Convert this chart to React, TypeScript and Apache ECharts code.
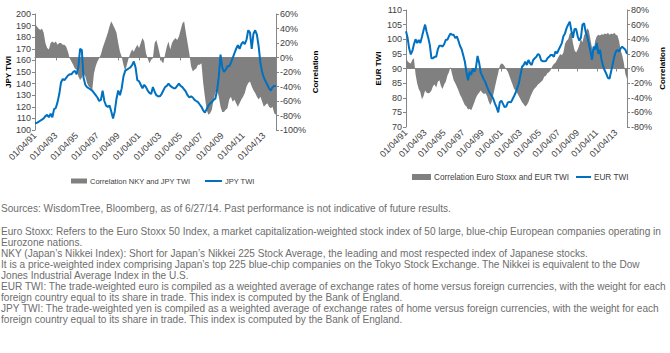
import React, { useEffect, useRef } from 'react';
import * as echarts from 'echarts';

const tickLabels = ['01/04/91', '01/04/93', '01/04/95', '01/04/97', '01/04/99', '01/04/01', '01/04/03', '01/04/05', '01/04/07', '01/04/09', '01/04/11', '01/04/13'];
const yearsPerPoint = 1 / 6; // bimonthly samples starting 01/04/91

const jpyTwi = [
  106, 106, 107, 108, 109, 110, 112, 113, 111, 114, 111, 118, 119, 124, 131, 141, 144, 143, 145, 147,
  148, 148, 150, 151, 148, 154, 170, 169, 145, 139, 137, 136, 135, 134, 132, 130, 128, 125, 126, 134,
  125, 121, 120, 121, 116, 110, 116, 127, 134, 130, 136, 146, 151, 152, 153, 154, 156, 159, 154, 143,
  142, 139, 136, 139, 137, 134, 132, 131, 137, 133, 130, 129, 129, 131, 134, 137, 138, 140, 138, 137,
  136, 136, 138, 140, 138, 137, 135, 133, 130, 128, 129, 128, 126, 125, 124, 122, 120, 117, 115, 118,
  121, 123, 124, 126, 127, 134, 146, 165, 154, 150, 152, 155, 155, 158, 162, 166, 170, 173, 170, 174,
  176, 174, 178, 186, 184, 170, 183, 186, 182, 172, 158, 150, 145, 142, 139, 136, 134, 137, 138, 138,
];

const corrNkyJpy = [
  47, 43, 40, 38, 40, 34, 20, 13, 11, 20, 22, 20, 22, 17.5, 20, 20, 17.5,
  17.5, 15, 8, -1, -5.5, -10, -15, -17, -26, -31, -28, -22, -26, -35, -40, -42, -45, -22, -12, -5.5, -1, 4, 13, 20,
  27, 34, 43, 50, 45, 40, 34, 20, 8, 1, -10, -19, -10, -1, 6, 11, 8, 13, 17.5,
  13, 20, 27, 22, 6, -1, -8, -3, -1, 20, 24, 15, 4, -5.5, -8, 4, 15, 22, 11, 20, 24, 27, 24, 29, 38, 47, 50, 34,
  20, 6, -12, -19, -17,
  -15, -10, -10, -8, -35, -54, -72, -79, -77, -72, -58, -49, -45, -54, -68, -75, -75, -72,
  -70, -58, -54, -61, -58, -63, -68, -63, -58, -54, -49, -40, -35, -33, -40, -45, -49, -54, -58, -54, -61, -68,
  -65, -63, -68,
  -70, -68, -77, -79,
];

const eurTwi = [
  102.7, 100.5, 96.8, 94.8, 96, 98.3, 100, 98.7, 99.8, 98.7, 100.8, 103, 105, 102.5, 100.5, 98, 93.5, 93.5, 94, 94,
  96.5, 97.8, 97.8, 97.5, 98.3, 99.8, 99.8, 101, 102, 101.5, 101.5, 100.4, 101, 99.4, 97.7, 96.6, 94.5, 92.4, 88.8, 86,
  88.9, 87.8, 90, 88.9, 90.3, 94.3, 92, 88.6, 87.4, 86.2, 85.2, 83.7, 82.4, 81.4, 80.6, 79.5, 77.9, 76.7, 75, 78.5,
  79, 77.9, 76.8, 77, 78.3, 78.6, 78.4, 79.5, 80.6, 81.8, 83.4, 85, 87.8, 90.6, 91.2, 92.3, 91.2, 92.9, 91.8, 91.2,
  92.9, 93.5, 94, 95, 94.5, 92.8, 92.5, 92.5, 92.6, 93.5, 94, 94.6, 94.6, 94, 95.8, 95.2, 96.4, 97.5, 98.7, 101,
  102, 103.8, 105, 106, 103, 100.5, 103.5, 103.5, 101, 99.5, 100.5, 105, 105.5, 102.5, 101, 98.5, 96, 93, 97.5, 96.5,
  98.7, 95, 96.4, 93, 90.8, 89.3, 88.2, 86.8, 86.5, 89, 91.5, 94, 95.8, 96.3, 95.8, 96.9, 97.5, 96.9, 96.4, 95,
];

const corrEuroEur = [
  16, 10, 8, 7, 12, 14, -8, -20, -28, -32, -42, -38, -30, -33, -34, -33, -30, -24, -22, -26,
  -18, -16, -24, -28, -22, -18, -10, -5, 2, -8, -16, -20, -25, -30, -36, -40, -45, -50, -52, -56,
  -55, -57, -52, -46, -40, -36, -33, -30, -33, -35, -34, -38, -45, -50, -45, -35, -25, -15, -6, 4,
  7, 6, 3, -1, -4, -10, -16, -22, -28, -30, -34, -38, -42, -46, -49, -52, -50, -46, -40, -35,
  -30, -27, -25, -22, -20, -18, -16, -11, -10, -6, -5, -2, 3, 6, 8, 12, 16, 20, 18, 22,
  34, 38, 40, 48, 50, 35, 25, 22, 26, 32, 40, 36, 45, 50, 55, 52, 40, 28, 24, 38,
  44, 46, 45, 47, 46, 48, 47, 49, 46, 48, 47, 49, 46, 45, 38, 25, 18, 8, -8, -14,
];

const footnotes = [
  'Sources: WisdomTree, Bloomberg, as of 6/27/14. Past performance is not indicative of future results.',
  'Euro Stoxx: Refers to the Euro Stoxx 50 Index, a market capitalization-weighted stock index of 50 large, blue-chip European companies operating in',
  'Eurozone nations.',
  'NKY (Japan\u2019s Nikkei Index): Short for Japan\u2019s Nikkei 225 Stock Average, the leading and most respected index of Japanese stocks.',
  'It is a price-weighted index comprising Japan\u2019s top 225 blue-chip companies on the Tokyo Stock Exchange. The Nikkei is equivalent to the Dow',
  'Jones Industrial Average Index in the U.S.',
  'EUR TWI: The trade-weighted euro is compiled as a weighted average of exchange rates of home versus foreign currencies, with the weight for each',
  'foreign country equal to its share in trade. This index is computed by the Bank of England.',
  'JPY TWI: The trade-weighted yen is compiled as a weighted average of exchange rates of home versus foreign currencies, with the weight for each',
  'foreign country equal to its share in trade. This index is computed by the Bank of England.',
];

const NAME_CORR_JPY = 'Correlation NKY and JPY TWI';
const NAME_JPY = 'JPY TWI';
const NAME_CORR_EUR = 'Correlation Euro Stoxx and EUR TWI';
const NAME_EUR = 'EUR TWI';

const BLUE = '#0070C0';
const GREY = '#808080';
const AXIS = '#868686';
const LABEL = '#404040';
const FONT = 'Liberation Sans, Arial, sans-serif';

const toPairs = (values: number[]) => values.map((v, i) => [i * yearsPerPoint, v]);

const xLabel = (v: number) => {
  const k = v / 2;
  if (Math.abs(k - Math.round(k)) > 1e-6) return '';
  return tickLabels[Math.round(k)] ?? '';
};

function makeX(gridIndex: number, n: number) {
  return {
    type: 'value',
    gridIndex,
    min: 0,
    max: (n - 1) * yearsPerPoint,
    interval: 2,
    splitLine: { show: false },
    axisLine: { show: true, lineStyle: { color: AXIS, width: 1 } },
    axisTick: { show: true, length: 3, lineStyle: { color: AXIS } },
    axisLabel: { rotate: 45, margin: 4, fontSize: 9, color: LABEL, fontFamily: FONT, formatter: xLabel },
  };
}

function makeY(gridIndex: number, position: 'left' | 'right', min: number, max: number, interval: number, name: string, nameGap: number, pct: boolean) {
  return {
    type: 'value',
    gridIndex,
    position,
    min,
    max,
    interval,
    name,
    nameLocation: 'middle',
    nameRotate: 90,
    nameGap,
    nameTextStyle: { fontSize: 8, fontWeight: 'bold', color: '#000', fontFamily: FONT },
    splitLine: { show: false },
    axisLine: { show: true, onZero: false, lineStyle: { color: AXIS, width: 1 } },
    axisTick: { show: true, length: 3, lineStyle: { color: AXIS } },
    axisLabel: {
      fontSize: 9,
      margin: 4,
      color: LABEL,
      fontFamily: FONT,
      formatter: pct ? (v: number) => `${v}%` : (v: number) => `${v}`,
    },
  };
}

function legend(name: string, left: number, top: number, w: number, h: number, fontSize: number) {
  return {
    data: [{ name, icon: 'rect' }],
    left,
    top,
    padding: 0,
    itemGap: 0,
    itemWidth: w,
    itemHeight: h,
    selectedMode: false,
    textStyle: { fontSize, color: LABEL, fontFamily: FONT, padding: [0, 0, 0, -2] },
  };
}

export default function App() {
  const ref = useRef<HTMLDivElement>(null);
  useEffect(() => {
    if (!ref.current) return;
    const chart = echarts.init(ref.current, undefined, { renderer: 'svg' });
    const option: any = {
      animation: false,
      backgroundColor: '#fff',
      grid: [
        { left: 35, top: 14, width: 241, height: 116 },
        { left: 406, top: 10, width: 221, height: 117 },
      ],
      xAxis: [makeX(0, jpyTwi.length), makeX(1, eurTwi.length)],
      yAxis: [
        makeY(0, 'left', 100, 200, 10, 'JPY TWI', 23, false),
        makeY(0, 'right', -100, 60, 20, 'Correlation', 35, true),
        makeY(1, 'left', 70, 110, 5, 'EUR TWI', 24, false),
        makeY(1, 'right', -80, 80, 20, 'Correlation', 31, true),
      ],
      legend: [
        legend(NAME_CORR_JPY, 71, 177, 16, 5, 7.5),
        legend(NAME_JPY, 205, 177, 17, 2, 7.5),
        legend(NAME_CORR_EUR, 412, 173, 19, 6, 8.2),
        legend(NAME_EUR, 576, 173, 15, 2, 8.2),
      ],
      series: [
        {
          type: 'line', name: NAME_CORR_JPY, xAxisIndex: 0, yAxisIndex: 1, data: toPairs(corrNkyJpy),
          symbol: 'none', silent: true, z: 1,
          itemStyle: { color: GREY }, lineStyle: { width: 0, color: GREY }, areaStyle: { color: GREY, opacity: 1 },
        },
        {
          type: 'line', name: NAME_JPY, xAxisIndex: 0, yAxisIndex: 0, data: toPairs(jpyTwi),
          symbol: 'none', silent: true, z: 2,
          itemStyle: { color: BLUE }, lineStyle: { width: 2, color: BLUE },
        },
        {
          type: 'line', name: NAME_CORR_EUR, xAxisIndex: 1, yAxisIndex: 3, data: toPairs(corrEuroEur),
          symbol: 'none', silent: true, z: 1,
          itemStyle: { color: GREY }, lineStyle: { width: 0, color: GREY }, areaStyle: { color: GREY, opacity: 1 },
        },
        {
          type: 'line', name: NAME_EUR, xAxisIndex: 1, yAxisIndex: 2, data: toPairs(eurTwi),
          symbol: 'none', silent: true, z: 2,
          itemStyle: { color: BLUE }, lineStyle: { width: 2, color: BLUE },
        },
      ],
      graphic: [
        {
          type: 'group',
          x: 1,
          y: 0,
          scaleX: 0.918,
          children: footnotes.map((t, i) => ({
            type: 'text',
            x: 0,
            y: i === 0 ? 208 : 231 + (i - 1) * 11,
            style: { text: t, fontSize: 11, fontFamily: FONT, fill: '#6d6d6d', verticalAlign: 'middle', align: 'left' },
          })),
        },
      ],
    };
    chart.setOption(option);
    return () => chart.dispose();
  }, []);
  return <div ref={ref} style={{ position: 'absolute', left: 0, top: 0, width: 670, height: 353, background: '#fff' }} />;
}
